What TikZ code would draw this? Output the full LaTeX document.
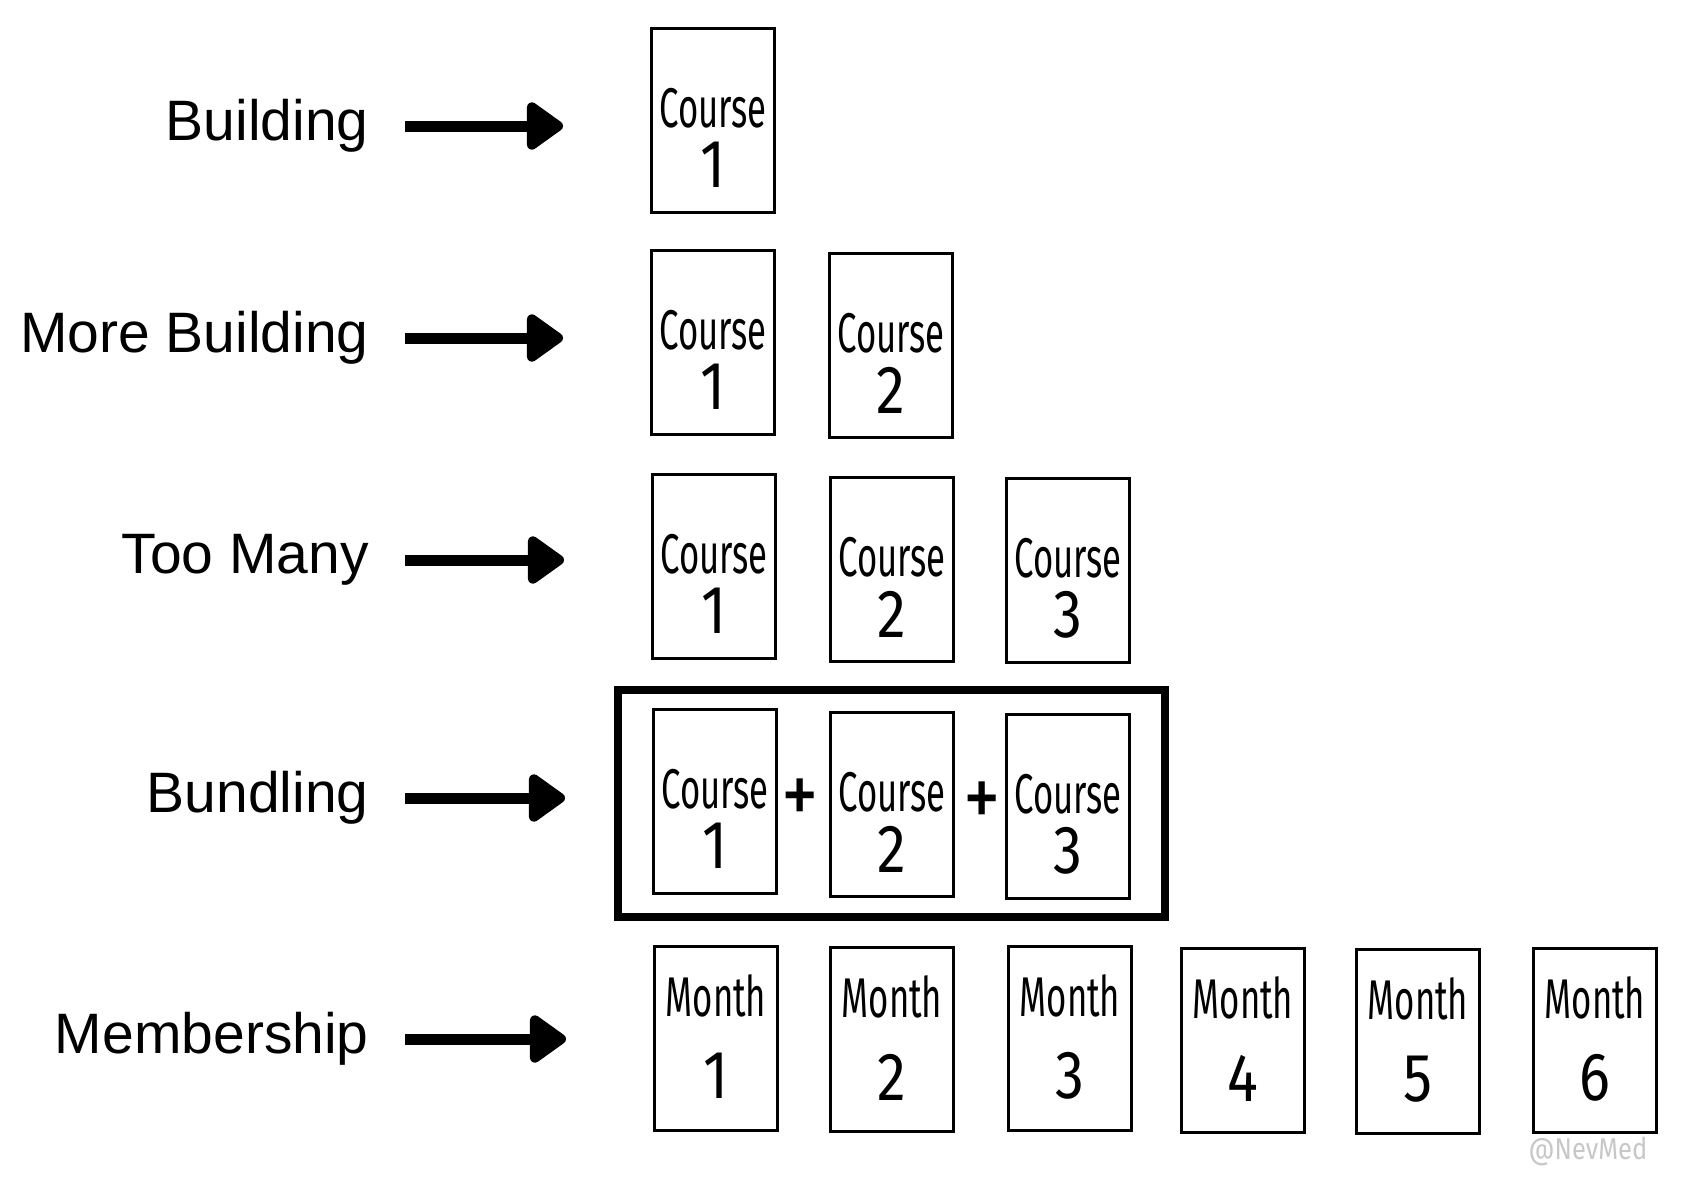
\documentclass[tikz,border=0pt]{standalone}
\usepackage{fontspec}
\setmainfont{Liberation Sans}
\newfontfamily\handfont[FakeStretch=0.62]{Fira Sans}
\newfontfamily\handnumfont[FakeStretch=0.85]{Fira Sans}
\usetikzlibrary{positioning}
\usetikzlibrary{fit}
\usetikzlibrary{arrows.meta}

\begin{document}
\begin{tikzpicture}[x=0.5pt, y=-0.5pt,
	stage/.style={anchor=east, inner sep=0pt, font=\fontsize{28.5}{34}\selectfont},
	card/.style={draw, line width=1.5pt, minimum width=61.5pt, minimum height=92pt, inner sep=0pt},
	word/.style={font=\handfont\fontsize{28}{30}\selectfont, inner sep=0pt},
	num/.style={font=\handnumfont\fontsize{34}{40}\selectfont, inner sep=0pt},
	course/.style={card, label={[word, yshift=6pt]center:Course}, label={[num, yshift=-22.5pt]center:#1}},
	month/.style={card, label={[word, yshift=21pt]center:Month}, label={[num, yshift=-19pt]center:#1}},
	plus/.style={font=\handnumfont\fontsize{44}{46}\selectfont, inner sep=0pt},
	push/.style={line width=5.5pt, -{Triangle[length=20pt, width=27pt, round]}, shorten <=18pt, shorten >=43.5pt},
	signature/.style={text=black!22, font=\handnumfont\fontsize{15}{16}\selectfont, inner sep=0pt}]
	\useasboundingbox (0,0) rectangle (1688,1184);
	% stages
	\node[stage] (lbuilding) at (369,126) {Building};
	\node[stage] (lmore) at (369,338) {More Building};
	\node[stage] (ltoomany) at (369,560) {Too Many};
	\node[stage] (lbundling) at (369,798) {Bundling};
	\node[stage] (lmembership) at (369,1039) {Membership};
	% courses
	\node[course=1] (b1) at (713,120) {};
	\node[course=1] (mb1) at (713,342) {};
	\node[course=2] (mb2) at (891,345) {};
	\node[course=1] (tm1) at (714,566) {};
	\node[course=2] (tm2) at (892,569) {};
	\node[course=3] (tm3) at (1068,570) {};
	\node[course=1] (bd1) at (715,801) {};
	\node[course=2] (bd2) at (892,804) {};
	\node[course=3] (bd3) at (1068,806) {};
	\node[plus] (pl1) at (800,802) {+};
	\node[plus] (pl2) at (982,805) {+};
	\node[draw, line width=3.75pt, fit=(bd1) (bd3), inner xsep=17pt, inner ysep=8.75pt] (bundle) {};
	% months
	\node[month=1] (ms1) at (716,1038) {};
	\node[month=2] (ms2) at (892,1039) {};
	\node[month=3] (ms3) at (1070,1038) {};
	\node[month=4] (ms4) at (1243,1040) {};
	\node[month=5] (ms5) at (1418,1041) {};
	\node[month=6] (ms6) at (1595,1040) {};
	\node[signature] (sig) at (1588,1151) {@NevMed};
	% arrows
	\draw[push] (lbuilding.east) -- (lbuilding.east -| b1.west);
	\draw[push] (lmore.east) -- (lmore.east -| mb1.west);
	\draw[push] (ltoomany.east) -- (ltoomany.east -| tm1.west);
	\draw[push] (lbundling.east) -- (lbundling.east -| bd1.west);
	\draw[push] (lmembership.east) -- (lmembership.east -| ms1.west);
\end{tikzpicture}
\end{document}
